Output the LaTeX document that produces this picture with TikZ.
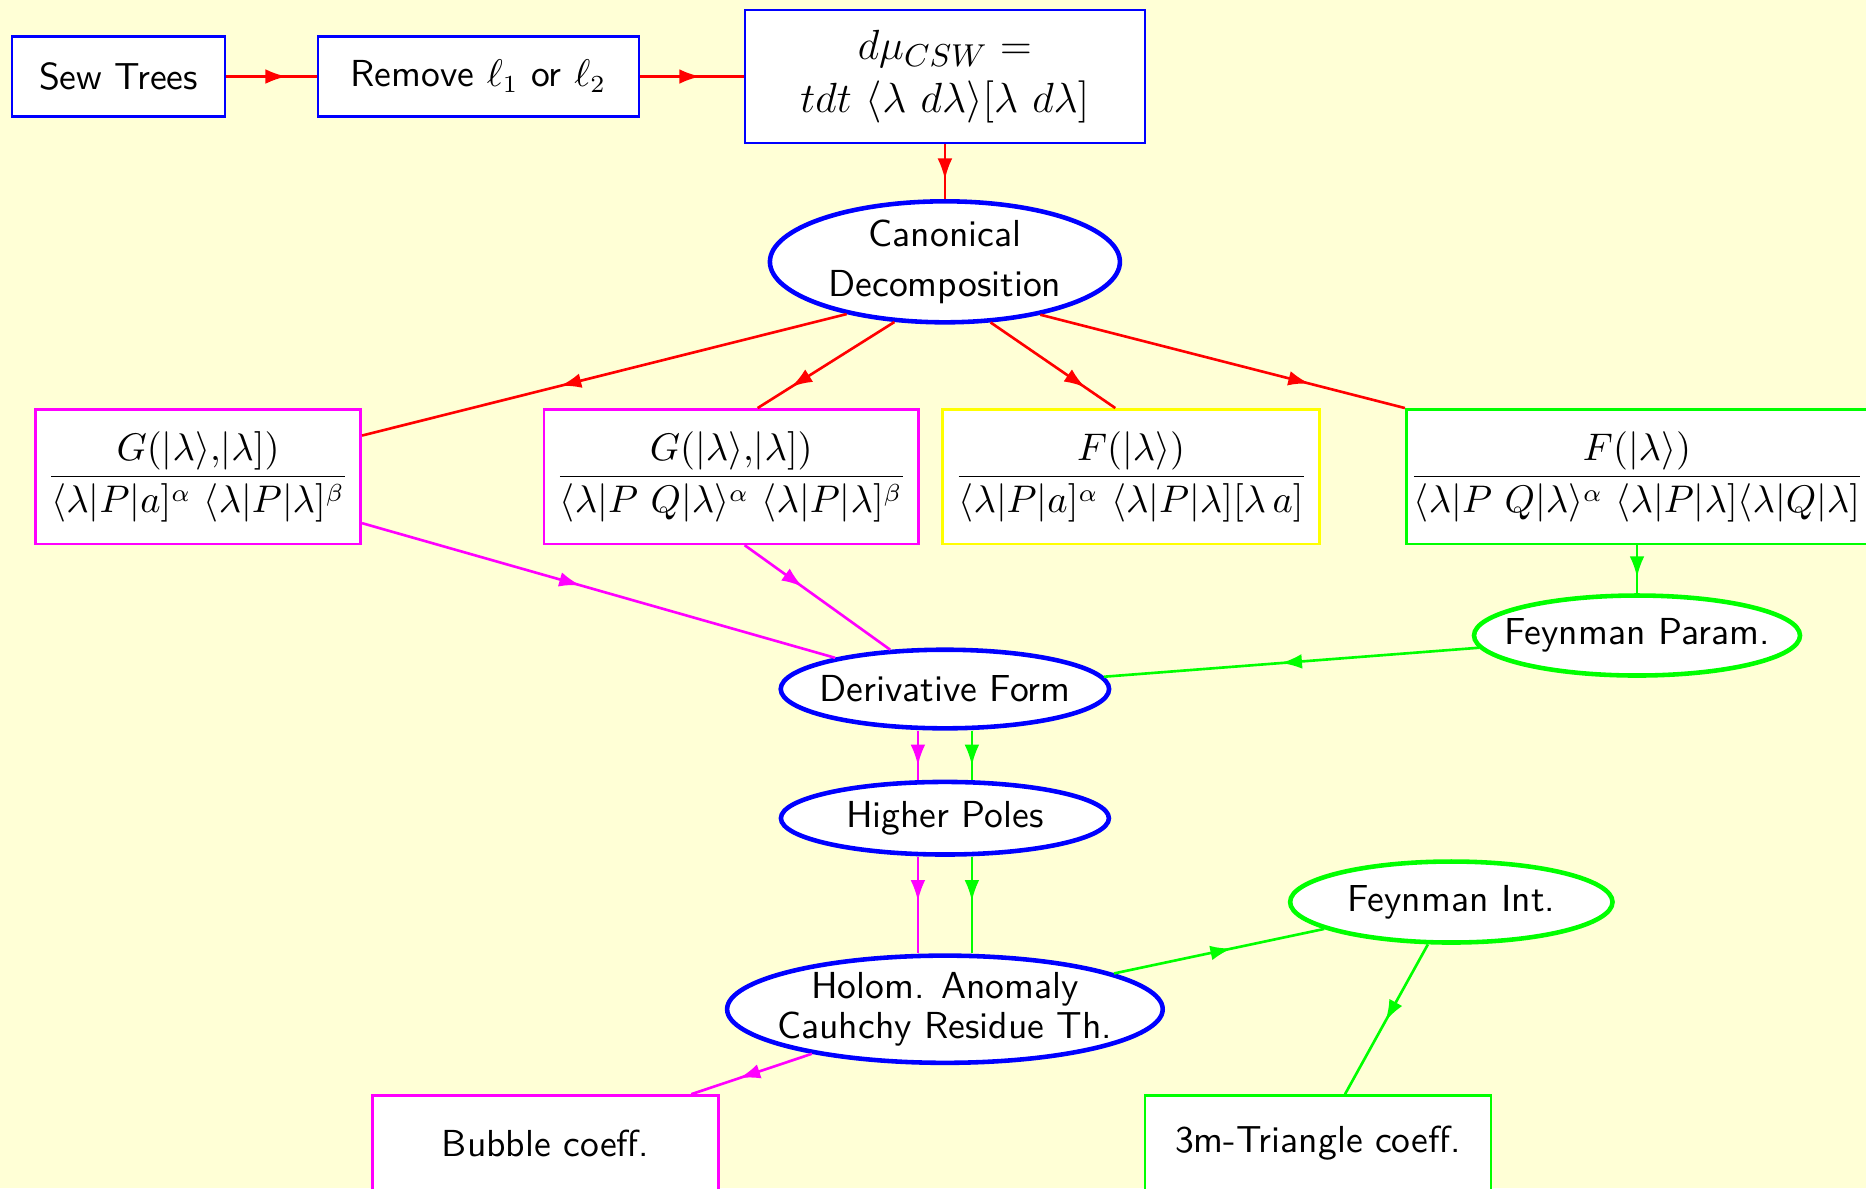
\documentclass[tikz,border=0pt]{standalone}
\usepackage{amsmath}
\usetikzlibrary{arrows.meta,shapes.geometric,decorations.markings}
\definecolor{bgyellow}{RGB}{255,255,214}
\definecolor{pmagenta}{RGB}{255,0,255}
\definecolor{pyellow}{RGB}{255,255,0}
\definecolor{pgreen}{RGB}{0,255,0}

\begin{document}
\begin{tikzpicture}[font=\sffamily\fontsize{10.7}{13}\selectfont, >=Latex,
  box/.style={draw, fill=white, line width=0.75pt, minimum height=0.8cm, align=center},
  oval/.style={ellipse, draw=blue, fill=white, line width=1.3pt, inner xsep=-3mm, inner ysep=0pt, align=center},
  midarrow/.style={line width=0.75pt, postaction={decorate},
    decoration={markings, mark=at position #1 with {\arrow[xshift=3pt]{Latex[length=6pt,width=4.2pt]}}}},
  midarrow/.default=0.5]
  \useasboundingbox (0,0) rectangle (18.66,-11.88);
  \fill[bgyellow] (0,0) rectangle (18.66,-11.88);

  % top row
  \node[box, draw=blue, minimum width=2.13cm] (sew) at (1.185,-0.765) {Sew Trees};
  \node[box, draw=blue, minimum width=3.21cm] (remove) at (4.784,-0.765) {Remove $\ell_1$ or $\ell_2$};
  \node[box, draw=blue, minimum width=4cm, minimum height=1.333cm, font=\sffamily\fontsize{12.4}{15}\selectfont] (dmu) at (9.449,-0.765)
    {$d\mu_{CSW} =$\\$tdt\ \langle\lambda\ d\lambda\rangle[\lambda\ d\lambda]$};
  \node[oval, minimum width=3.5cm, minimum height=1.21cm] (canon) at (9.449,-2.618) {Canonical\\[1pt]Decomposition};

  % the four integrand types
  \node[box, draw=pmagenta, minimum width=3.2cm, minimum height=1.345cm] (gone) at (1.981,-4.766)
    {$\dfrac{G(|\lambda\rangle{,}|\lambda])}{\langle\lambda|P|a]^\alpha\ \langle\lambda|P|\lambda]^\beta}$};
  \node[box, draw=pmagenta, minimum width=3.606cm, minimum height=1.345cm] (gtwo) at (7.313,-4.766)
    {$\dfrac{G(|\lambda\rangle{,}|\lambda])}{\langle\lambda|P\ Q|\lambda\rangle^\alpha\ \langle\lambda|P|\lambda]^\beta}$};
  \node[box, draw=pyellow, minimum width=3.606cm, minimum height=1.345cm] (fone) at (11.311,-4.766)
    {$\dfrac{F(|\lambda\rangle)}{\langle\lambda|P|a]^\alpha\ \langle\lambda|P|\lambda][\lambda\,a]}$};
  \node[box, draw=pgreen, minimum width=4.52cm, minimum height=1.345cm, inner xsep=1pt] (ftwo) at (16.37,-4.766)
    {$\dfrac{F(|\lambda\rangle)}{\langle\lambda|P\ Q|\lambda\rangle^\alpha\ \langle\lambda|P|\lambda]\langle\lambda|Q|\lambda]}$};

  % reduction steps
  \node[oval, draw=pgreen, minimum width=3.26cm, minimum height=0.8cm] (fpar) at (16.37,-6.355) {Feynman Param.};
  \node[oval, minimum width=3.284cm, minimum height=0.786cm] (deriv) at (9.449,-6.89) {Derivative Form};
  \node[oval, minimum width=3.28cm, minimum height=0.726cm] (poles) at (9.449,-8.182) {Higher Poles};
  \node[oval, draw=pgreen, minimum width=3.224cm, minimum height=0.81cm] (fint) at (14.513,-9.02) {Feynman Int.};
  \node[oval, minimum width=4.356cm, minimum height=1.072cm] (holom) at (9.449,-10.092) {\raisebox{-1pt}{Holom. Anomaly}\\[-1.5pt]\raisebox{-1pt}{Cauhchy Residue Th.}};

  % coefficients
  \node[box, draw=pmagenta, minimum width=3.463cm, minimum height=0.95cm] (bubble) at (5.456,-11.43) {Bubble coeff.};
  \node[box, draw=pgreen, minimum width=3.463cm, minimum height=0.95cm] (tri) at (13.18,-11.43) {3m-Triangle coeff.};

  \draw[red, midarrow=0.55] (sew) -- (remove);
  \draw[red, midarrow=0.48] (remove) -- (dmu);
  \draw[red, midarrow=0.45] (dmu) -- (canon);
  \draw[red, midarrow=0.57] (canon.208) -- (gone);
  \draw[red, midarrow=0.69] (canon.230) -- (gtwo.69);
  \draw[red, midarrow=0.69] (canon.307) -- (fone.103);
  \draw[red, midarrow=0.71] (canon.331) -- (ftwo.north west);
  \draw[pmagenta, midarrow=0.44] (gone) -- (deriv);
  \draw[pmagenta, midarrow=0.34] (gtwo.281) -- (deriv);
  \draw[pgreen, midarrow=0.45] (ftwo) -- (fpar);
  \draw[pgreen, midarrow] (fpar) -- (deriv);
  \draw[pmagenta, midarrow] ([xshift=-2.7mm]deriv.south) -- ([xshift=-2.7mm]poles.north);
  \draw[pgreen, midarrow] ([xshift=2.7mm]deriv.south) -- ([xshift=2.7mm]poles.north);
  \draw[pmagenta, midarrow=0.35] ([xshift=-2.7mm]poles.south) -- ([xshift=-2.7mm]holom.north);
  \draw[pgreen, midarrow=0.35] ([xshift=2.7mm]poles.south) -- ([xshift=2.7mm]holom.north);
  \draw[pgreen, midarrow=0.51] (holom) -- (fint);
  \draw[pgreen, midarrow=0.45] (fint) -- (tri);
  \draw[pmagenta, midarrow=0.52] (holom) -- (bubble);
\end{tikzpicture}
\end{document}
